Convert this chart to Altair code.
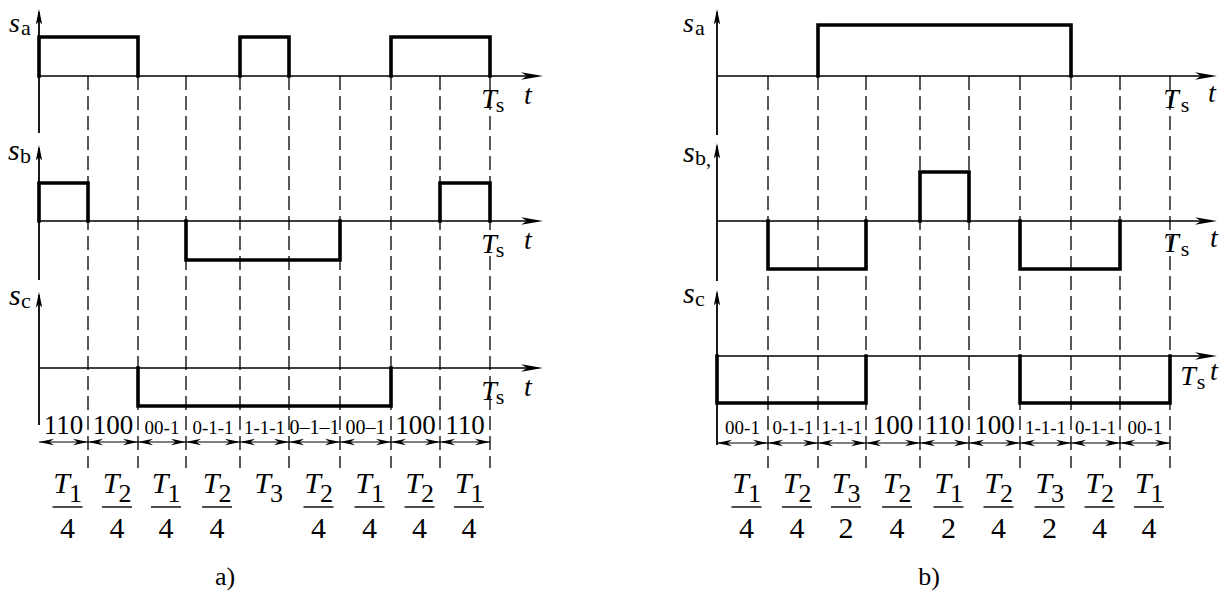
import altair as alt
import pandas as pd

# ----------------------------------------------------------------- data
# durations of the nine switching intervals (same time unit in both panels)
a_durations = [49, 50, 48, 54, 49, 51, 51, 49, 50]
b_durations = [51, 50, 48, 54, 49, 51, 51, 49, 50]

# switching state written under each interval
a_states = ["110", "100", "00-1", "0-1-1", "1-1-1", "0–1–1", "00–1", "100", "110"]
b_states = ["00-1", "0-1-1", "1-1-1", "100", "110", "100", "1-1-1", "0-1-1", "00-1"]

# switching functions per interval
a_sa = [1, 1, 0, 0, 1, 0, 0, 1, 1]
a_sb = [1, 0, 0, -1, -1, -1, 0, 0, 1]
a_sc = [0, 0, -1, -1, -1, -1, -1, 0, 0]
b_sa = [0, 0, 1, 1, 1, 1, 1, 0, 0]
b_sb = [0, -1, -1, 0, 1, 0, -1, -1, 0]
b_sc = [-1, -1, -1, 0, 0, 0, -1, -1, -1]

# interval lengths written as T_k / n  (empty denominator = no fraction)
a_num = ["1", "2", "1", "2", "3", "2", "1", "2", "1"]
a_den = ["4", "4", "4", "4", "", "4", "4", "4", "4"]
b_num = ["1", "2", "3", "2", "1", "2", "3", "2", "1"]
b_den = ["4", "4", "2", "4", "2", "4", "2", "4", "4"]

axis_names = ["a", "b", "c"]
captions = ["a)", "b)"]

# ----------------------------------------------------------------- layout / style
FONT = "'Liberation Serif', 'Times New Roman', Tinos, 'DejaVu Serif', serif"
TOP, H = 8, 583

UP_ARROW = "M0,0L0.45,2.2L0,1.7L-0.45,2.2Z"
RIGHT_ARROW = "M0,0L-2.2,-0.38L-1.6,0L-2.2,0.38Z"
DIM_LEFT = "M0,0L2,-0.42L1.4,0L2,0.42Z"
DIM_RIGHT = "M0,0L-2,-0.42L-1.4,0L-2,0.42Z"

LAYOUT_A = dict(
    left=8, width=660, origin=39, axis_len=504, dash=(76, 468),
    state_y=434, dim_y=442, frac_dx=4, caption_x=225, caption_y=585,
    rows=[
        dict(base=76, up=39, down=39, ax=(9, 133), lab=(9, 32, 28),
             ts=(-1, 10, 38), ts_y=(32, 36, 28)),
        dict(base=221, up=38, down=39, ax=(145, 280), lab=(8, 160, 30),
             ts=(-1, 10, 38), ts_y=(32, 36, 28)),
        dict(base=368, up=38, down=38, ax=(292, 425), lab=(9, 305, 30),
             ts=(-1, 10, 38), ts_y=(32, 36, 28)),
    ],
    comma=None,
)
LAYOUT_B = dict(
    left=686, width=534, origin=717, axis_len=500, dash=(76, 468),
    state_y=434, dim_y=443, frac_dx=4, caption_x=929, caption_y=585,
    rows=[
        dict(base=76, up=51, down=51, ax=(9, 135), lab=(683, 32, 28),
             ts=(1, 15, 42), ts_y=(32, 36, 26)),
        dict(base=221, up=49, down=48, ax=(143, 281), lab=(683, 162, 30),
             ts=(1, 15, 44), ts_y=(31, 35, 26)),
        dict(base=356, up=47, down=47, ax=(290, 445), lab=(683, 303, 30),
             ts=(18, 31, 44), ts_y=(29, 33, 24)),
    ],
    comma=(706, 166),
)


def edges(durs):
    e = [0]
    for d in durs:
        e.append(e[-1] + d)
    return e


def level_y(row, lv):
    if lv > 0:
        return row["base"] - lv * row["up"]
    if lv < 0:
        return row["base"] - lv * row["down"]
    return row["base"]


def panel(L, durs, levels3, states, nums, dens, caption):
    e = edges(durs)
    Ts = e[-1]
    o = L["origin"]
    xs = alt.Scale(domain=[L["left"] - o, L["left"] + L["width"] - o], nice=False, zero=False)
    ys = alt.Scale(domain=[TOP, TOP + H], reverse=True, nice=False, zero=False)

    def X(f="t"):
        return alt.X(f"{f}:Q", scale=xs, axis=None)

    def Y(f="y"):
        return alt.Y(f"{f}:Q", scale=ys, axis=None)

    def text_layer(df, size, style="normal", align="center"):
        enc = dict(x=X(), y=Y(), text="s:N")
        if size is None:
            enc["size"] = alt.Size("fs:Q", scale=None)
            mk = alt.Chart(df).mark_text(font=FONT, fontStyle=style, align=align,
                                         baseline="alphabetic", color="black")
        else:
            mk = alt.Chart(df).mark_text(font=FONT, fontSize=size, fontStyle=style, align=align,
                                         baseline="alphabetic", color="black")
        return mk.encode(**enc)

    layers = []
    rows = L["rows"]

    # dashed interval boundaries
    dash = pd.DataFrame({"t": e[1:], "y": L["dash"][0], "y2": L["dash"][1]})
    layers.append(alt.Chart(dash).mark_rule(color="black", strokeWidth=1.3, strokeDash=[14, 6])
                  .encode(x=X(), y=Y(), y2=alt.Y2("y2:Q")))

    # vertical axes
    vax = pd.DataFrame({"t": [0] * 3, "y": [r["ax"][0] + 3 for r in rows],
                        "y2": [r["ax"][1] for r in rows]})
    layers.append(alt.Chart(vax).mark_rule(color="black", strokeWidth=1.8)
                  .encode(x=X(), y=Y(), y2=alt.Y2("y2:Q")))
    upa = pd.DataFrame({"t": [0] * 3, "y": [r["ax"][0] for r in rows]})
    layers.append(alt.Chart(upa).mark_point(shape=UP_ARROW, size=196, filled=True, color="black",
                                            opacity=1, strokeWidth=0)
                  .encode(x=X(), y=Y()))

    # time axes
    hax = pd.DataFrame({"t": [0] * 3, "t2": [L["axis_len"] - 6] * 3, "y": [r["base"] for r in rows]})
    layers.append(alt.Chart(hax).mark_rule(color="black", strokeWidth=1.4)
                  .encode(x=X(), x2=alt.X2("t2:Q"), y=Y()))
    ra = pd.DataFrame({"t": [L["axis_len"]] * 3, "y": [r["base"] for r in rows]})
    layers.append(alt.Chart(ra).mark_point(shape=RIGHT_ARROW, size=400, filled=True, color="black",
                                           opacity=1, strokeWidth=0)
                  .encode(x=X(), y=Y()))

    # waveforms: one polyline per pulse
    pts = []
    for ri, (row, levels) in enumerate(zip(rows, levels3)):
        i = 0
        pid = 0
        while i < len(levels):
            v = levels[i]
            if v == 0:
                i += 1
                continue
            j = i
            while j + 1 < len(levels) and levels[j + 1] == v:
                j += 1
            t0, t1 = e[i], e[j + 1]
            for k, (t, lv) in enumerate([(t0, 0), (t0, v), (t1, v), (t1, 0)]):
                pts.append(dict(pid=f"{ri}-{pid}", seq=k, t=t, y=level_y(row, lv)))
            pid += 1
            i = j + 1
    wf = pd.DataFrame(pts)
    layers.append(alt.Chart(wf).mark_line(color="black", strokeWidth=3.6, strokeJoin="miter",
                                          strokeCap="square")
                  .encode(x=X(), y=Y(), detail="pid:N", order="seq:Q"))

    # axis names s_a, s_b, s_c
    s_df = pd.DataFrame({"t": [r["lab"][0] - o for r in rows], "y": [r["lab"][1] for r in rows],
                         "s": ["s"] * 3, "fs": [r["lab"][2] for r in rows]})
    layers.append(text_layer(s_df, None, "italic", "left"))
    sub_df = pd.DataFrame({"t": [r["lab"][0] - o + 12 for r in rows],
                           "y": [r["lab"][1] + 3 for r in rows], "s": axis_names})
    layers.append(text_layer(sub_df, 22, "normal", "left"))
    if L["comma"]:
        cx, cy = L["comma"]
        layers.append(text_layer(pd.DataFrame({"t": [cx - o], "y": [cy], "s": [","]}), 20, "normal", "left"))

    # T_s and t labels
    T_df = pd.DataFrame({"t": [Ts + r["ts"][0] for r in rows],
                         "y": [r["base"] + r["ts_y"][0] for r in rows], "s": ["T"] * 3})
    layers.append(text_layer(T_df, 28, "italic"))
    Tsub = pd.DataFrame({"t": [Ts + r["ts"][1] for r in rows],
                         "y": [r["base"] + r["ts_y"][1] for r in rows], "s": ["s"] * 3})
    layers.append(text_layer(Tsub, 22))
    t_df = pd.DataFrame({"t": [Ts + r["ts"][2] for r in rows],
                         "y": [r["base"] + r["ts_y"][2] for r in rows], "s": ["t"] * 3})
    layers.append(text_layer(t_df, 28, "italic"))

    # state labels
    centers = [(e[i] + e[i + 1]) / 2 for i in range(len(durs))]
    fs = [27 if len(s) == 3 else (20 if "–" in s else 19) for s in states]
    st = pd.DataFrame({"t": centers, "y": L["state_y"], "s": states, "fs": fs})
    layers.append(text_layer(st, None))

    # dimension line with arrows
    dim = pd.DataFrame({"t": [0], "t2": [Ts], "y": [L["dim_y"]]})
    layers.append(alt.Chart(dim).mark_rule(color="black", strokeWidth=1.1)
                  .encode(x=X(), x2=alt.X2("t2:Q"), y=Y()))
    dl = pd.DataFrame({"t": e[:-1], "y": L["dim_y"]})
    layers.append(alt.Chart(dl).mark_point(shape=DIM_LEFT, size=225, filled=True, color="black",
                                           opacity=1, strokeWidth=0).encode(x=X(), y=Y()))
    dr = pd.DataFrame({"t": e[1:], "y": L["dim_y"]})
    layers.append(alt.Chart(dr).mark_point(shape=DIM_RIGHT, size=225, filled=True, color="black",
                                           opacity=1, strokeWidth=0).encode(x=X(), y=Y()))

    # fractions T_k / n
    fc = [c + L["frac_dx"] for c in centers]
    layers.append(text_layer(pd.DataFrame({"t": [c - 6 for c in fc], "y": 493, "s": ["T"] * len(fc)}),
                             30, "italic"))
    layers.append(text_layer(pd.DataFrame({"t": [c + 8 for c in fc], "y": 502, "s": nums}), 26))
    fr = [(c, d) for c, d in zip(fc, dens) if d]
    bars = pd.DataFrame({"t": [c - 15 for c, _ in fr], "t2": [c + 15 for c, _ in fr], "y": 507})
    layers.append(alt.Chart(bars).mark_rule(color="black", strokeWidth=1.4)
                  .encode(x=X(), x2=alt.X2("t2:Q"), y=Y()))
    layers.append(text_layer(pd.DataFrame({"t": [c for c, _ in fr], "y": 538, "s": [d for _, d in fr]}), 30))

    # caption
    layers.append(text_layer(pd.DataFrame({"t": [L["caption_x"] - o], "y": [L["caption_y"]], "s": [caption]}), 26))

    return alt.layer(*layers).properties(width=L["width"], height=H)


pa = panel(LAYOUT_A, a_durations, [a_sa, a_sb, a_sc], a_states, a_num, a_den, captions[0])
pb = panel(LAYOUT_B, b_durations, [b_sa, b_sb, b_sc], b_states, b_num, b_den, captions[1])

chart = (
    alt.hconcat(pa, pb, spacing=18, bounds="flush")
    .properties(padding=0, background="white")
    .configure_view(strokeWidth=0)
)

chart.save("out.html", embed_options={"renderer": "svg", "actions": False})
